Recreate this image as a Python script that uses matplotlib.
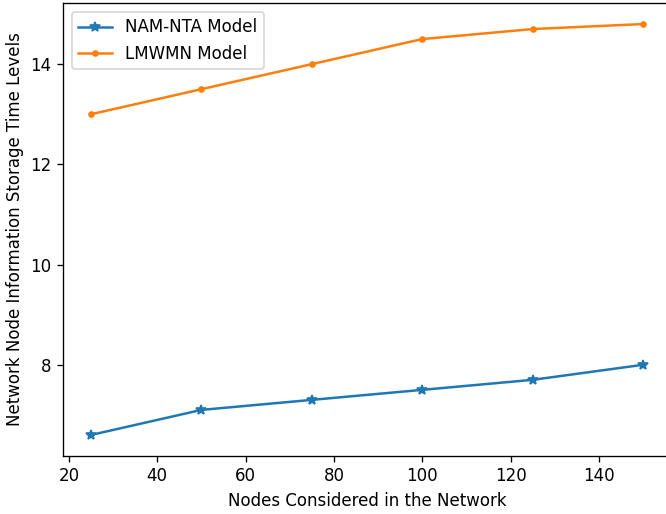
import matplotlib.pyplot as plt

# Data
nodes = [25, 50, 75, 100, 125, 150]
nam_nta = [6.6, 7.1, 7.3, 7.5, 7.7, 8.0]
lmwmn = [13.0, 13.5, 14.0, 14.5, 14.7, 14.8]

# reference looks rendered at ~1.2x the default scale
fig = plt.figure(figsize=(6.66 / 1.2, 5.14 / 1.2), dpi=120)
# axes run slightly past the right edge, as in the cropped reference
ax = fig.add_axes([0.0952, 0.1138, 0.9117, 0.8794])

ax.plot(nodes, nam_nta, marker='*', label='NAM-NTA Model')
ax.plot(nodes, lmwmn, marker='.', label='LMWMN Model')

ax.set_xlabel('Nodes Considered in the Network')
ax.set_ylabel('Network Node Information Storage Time Levels')
ax.legend(loc='upper left')

fig.savefig('out.png', dpi=120)
plt.close(fig)
